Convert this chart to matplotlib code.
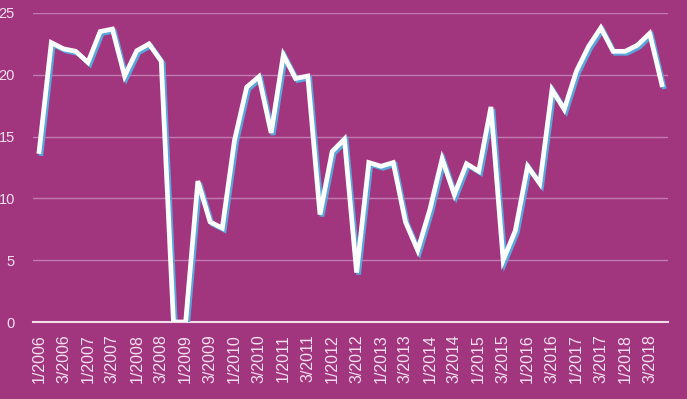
import matplotlib
matplotlib.use("Agg")
import matplotlib.pyplot as plt
import matplotlib.transforms as mtransforms

quarters = [f"{q}/{y}" for y in range(2006, 2019) for q in (1, 2, 3, 4)]
values = [13.8, 22.6, 22.1, 21.9, 21.0, 23.5, 23.7, 19.9, 21.95, 22.5,
          21.1, 0.0, 0.0, 11.4, 8.1, 7.6, 14.7, 19.0, 19.85, 15.3,
          21.6, 19.7, 19.9, 8.7, 13.8, 14.8, 4.0, 12.9, 12.6, 12.9,
          8.1, 5.8, 9.1, 13.2, 10.3, 12.8, 12.2, 17.4, 5.0, 7.4,
          12.6, 11.2, 18.8, 17.2, 20.3, 22.3, 23.8, 21.9, 21.9, 22.4,
          23.35, 19.2]
yticks = [0, 5, 10, 15, 20, 25]

BG = "#A1367F"
GRID = "#C27AB0"
TXT = "#F4E0EF"

fig = plt.figure(figsize=(6.87, 3.99), dpi=100, facecolor=BG)
ax = fig.add_axes([33/687, 1-322/399, (668-33)/687, (322-13)/399])
ax.set_facecolor(BG)

x = list(range(len(values)))
shadow = mtransforms.offset_copy(ax.transData, fig=fig, x=2, y=-2, units='dots')
ax.plot(x, values, color="#5AA6DC", lw=3.4, transform=shadow,
        solid_joinstyle='miter', zorder=3)
ax.plot(x, values, color="white", lw=3.4, solid_joinstyle='miter', zorder=4)

ax.set_xlim(-0.5, len(values) - 0.5)
ax.set_ylim(0, 25)
ax.set_yticks(yticks)
ax.set_yticklabels([str(v) for v in yticks])
ax.set_xticks(x[::2])
ax.set_xticklabels(quarters[::2], rotation=90)

for s in ["top", "right", "left"]:
    ax.spines[s].set_visible(False)
ax.spines["bottom"].set_color("#F3DDEC")
ax.spines["bottom"].set_linewidth(1.5)
ax.spines["bottom"].set_zorder(2)

ax.grid(axis="y", color=GRID, lw=1.0)
ax.set_axisbelow(True)
ax.tick_params(axis="both", length=0, colors=TXT)
ax.tick_params(axis="y", pad=13, labelsize=10.5)
ax.tick_params(axis="x", pad=9, labelsize=11.5)
for lab in ax.get_xticklabels() + ax.get_yticklabels():
    lab.set_family(["Liberation Sans", "DejaVu Sans"])

fig.savefig("out.png", dpi=100, facecolor=BG)
